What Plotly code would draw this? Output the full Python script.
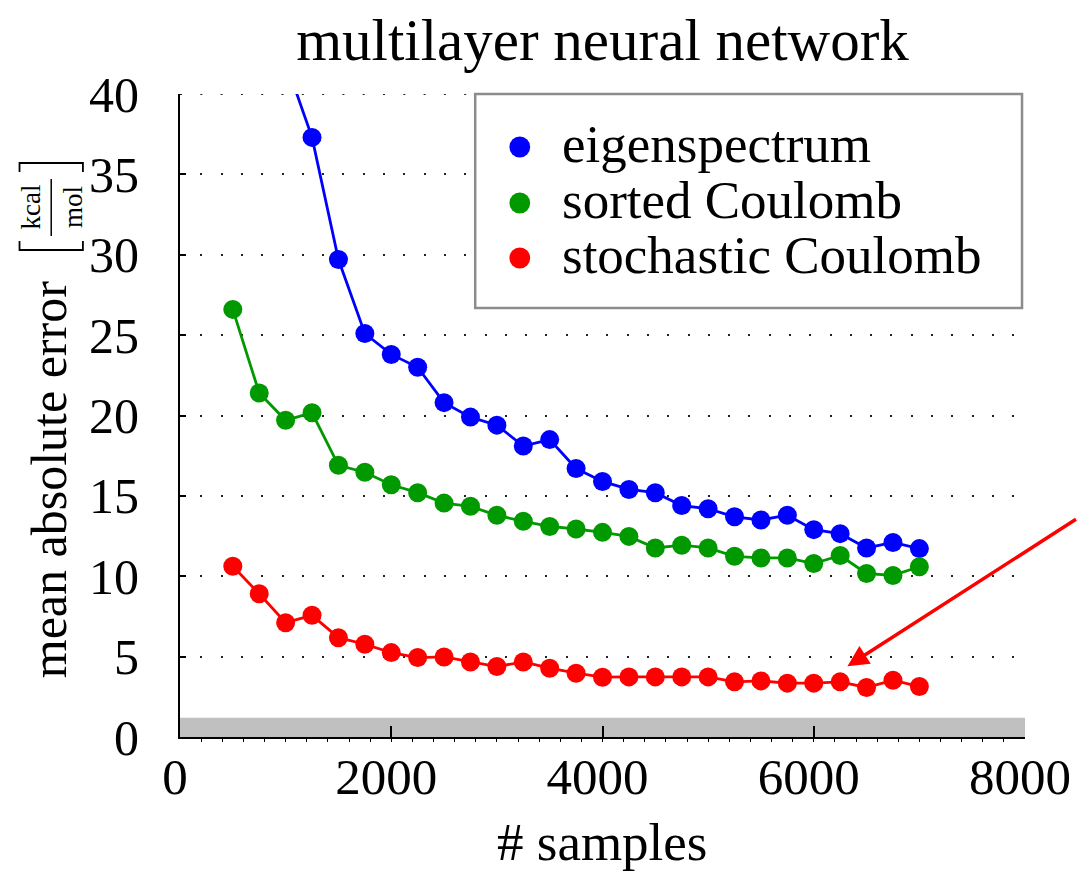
import plotly.graph_objects as go

# ---------------- data ----------------
samples = [500, 750, 1000, 1250, 1500, 1750, 2000, 2250, 2500, 2750, 3000, 3250, 3500,
           3750, 4000, 4250, 4500, 4750, 5000, 5250, 5500, 5750, 6000, 6250, 6500, 6750, 7000]
eigenspectrum = [55.0, 47.5, 42.0, 37.3, 29.7, 25.1, 23.8, 23.0, 20.8, 19.9, 19.4, 18.1, 18.5,
                 16.7, 15.9, 15.4, 15.2, 14.4, 14.2, 13.7, 13.5, 13.8, 12.9, 12.65, 11.76, 12.1, 11.72]
sorted_coulomb = [26.6, 21.4, 19.7, 20.17, 16.9, 16.47, 15.69, 15.2, 14.55, 14.35, 13.79, 13.42, 13.1,
                  12.94, 12.73, 12.48, 11.76, 11.93, 11.76, 11.24, 11.14, 11.14, 10.79, 11.29, 10.17, 10.05, 10.59]
stochastic_coulomb = [10.62, 8.91, 7.11, 7.57, 6.18, 5.77, 5.25, 4.94, 4.98, 4.67, 4.38, 4.67, 4.28,
                      3.97, 3.72, 3.74, 3.74, 3.74, 3.74, 3.43, 3.49, 3.35, 3.35, 3.43, 3.08, 3.53, 3.14]
series_names = ["eigenspectrum", "sorted Coulomb", "stochastic Coulomb"]
series_colors = ["#0000ff", "#009900", "#ff0000"]
x_ticks = [0, 2000, 4000, 6000, 8000]
y_ticks = [0, 5, 10, 15, 20, 25, 30, 35, 40]
accuracy_band = 1.2          # shaded band height (kcal/mol)
arrow_target = (6319, 4.4)   # arrow head position in data units

# ---------------- layout geometry ----------------
# The page body keeps its default 8px margin, so the figure is sized to fit
# the 1091x881 window exactly (8 + 1075 + 8, 8 + 865 + 8).
OFF = 8
W, H = 1075, 865
ML, MR, MT, MB = 172, 50, 86, 136
PW, PH = W - ML - MR, H - MT - MB
FONT = "Liberation Serif"


def px(xp):
    """final-image pixel x -> paper x"""
    return (xp - OFF - ML) / PW


def py(yp):
    """final-image pixel y -> paper y"""
    return (H - MB - (yp - OFF)) / PH


fig = go.Figure()
for name, vals, col in zip(series_names, [eigenspectrum, sorted_coulomb, stochastic_coulomb], series_colors):
    fig.add_trace(go.Scatter(
        x=samples, y=vals, name=name, mode="lines+markers",
        line=dict(color=col, width=2.8),
        marker=dict(color=col, size=19, line=dict(width=0)),
        showlegend=False,
    ))

shapes = []
annotations = []

# shaded band near zero
shapes.append(dict(type="rect", xref="x", yref="y", x0=0, x1=8000, y0=0, y1=accuracy_band,
                   fillcolor="#c0c0c0", line=dict(width=0), layer="between"))
# top dotted gridline (range edge)
shapes.append(dict(type="line", xref="x", yref="y", x0=0, x1=8000, y0=40, y1=40,
                   line=dict(color="#222222", width=2, dash="2px,18.3px"), layer="below"))

# manual legend
lx0, ly0, lx1, ly1 = 478, 94, 1030, 308
shapes.append(dict(type="rect", xref="paper", yref="paper", x0=px(lx0), x1=px(lx1),
                   y0=py(ly1), y1=py(ly0), fillcolor="white",
                   line=dict(color="#8c8c8c", width=2.5), layer="above"))
rows = [147, 203, 258]
for name, col, ry in zip(series_names, series_colors, rows):
    r = 10.5
    shapes.append(dict(type="circle", xref="paper", yref="paper",
                       x0=px(523 - r), x1=px(523 + r), y0=py(ry + r), y1=py(ry - r),
                       fillcolor=col, line=dict(width=0), layer="above"))
    annotations.append(dict(text=name, xref="paper", yref="paper", x=px(564), y=py(ry - 3),
                            xanchor="left", yanchor="middle", showarrow=False,
                            font=dict(family=FONT, size=53, color="black")))

# y-axis label with bracketed fraction
annotations.append(dict(text="mean absolute error", xref="paper", yref="paper",
                        x=px(48), y=py(480), textangle=-90, showarrow=False,
                        xanchor="center", yanchor="middle",
                        font=dict(family=FONT, size=50, color="black")))
annotations.append(dict(text="kcal", xref="paper", yref="paper", x=px(30), y=py(207),
                        textangle=-90, showarrow=False, xanchor="center", yanchor="middle",
                        font=dict(family=FONT, size=27, color="black")))
annotations.append(dict(text="mol", xref="paper", yref="paper", x=px(72), y=py(207),
                        textangle=-90, showarrow=False, xanchor="center", yanchor="middle",
                        font=dict(family=FONT, size=27, color="black")))
# fraction bar
shapes.append(dict(type="line", xref="paper", yref="paper", x0=px(50), x1=px(50),
                   y0=py(179), y1=py(236), line=dict(color="black", width=1.5)))
# brackets
for yb, d in [(163, 9), (250, -9)]:
    path = "M {},{} L {},{} L {},{} L {},{}".format(
        px(18), py(yb + d), px(18), py(yb), px(82), py(yb), px(82), py(yb + d))
    shapes.append(dict(type="path", xref="paper", yref="paper", path=path,
                       line=dict(color="black", width=1.8)))

# x-axis title
annotations.append(dict(text="# samples", xref="paper", yref="paper", x=0.5, y=py(842),
                        xanchor="center", yanchor="middle", showarrow=False,
                        font=dict(family=FONT, size=53, color="black")))

# red arrow
annotations.append(dict(text="", x=arrow_target[0], y=arrow_target[1], xref="x", yref="y",
                        ax=230, ay=-148, showarrow=True, arrowhead=2, arrowsize=1.2,
                        arrowwidth=3.5, arrowcolor="#ff0000", standoff=0))

fig.update_layout(
    width=W, height=H,
    margin=dict(l=ML, r=MR, t=MT, b=MB),
    plot_bgcolor="white", paper_bgcolor="white",
    font=dict(family=FONT, color="black"),
    showlegend=False,
    title=dict(text="multilayer neural network", x=0.5, xref="paper", xanchor="center",
               y=1 - (39 - OFF) / H, yref="container", yanchor="middle",
               font=dict(family=FONT, size=59, color="black")),
    shapes=shapes,
    annotations=annotations,
    xaxis=dict(range=[0, 8000], tickvals=x_ticks, ticktext=[str(v) for v in x_ticks],
               ticks="inside", ticklen=11, tickwidth=1.5, tickcolor="black",
               showline=True, linewidth=2, linecolor="black", showgrid=False, zeroline=False,
               tickfont=dict(family=FONT, size=51, color="black"), ticklabelstandoff=-6,
               ticklabelshift=-5,
               minor=dict(ticks="outside", ticklen=3, dtick=200, tickcolor="black",
                          tickwidth=1, showgrid=False)),
    yaxis=dict(range=[0, 40], tickvals=y_ticks, ticktext=[str(v) for v in y_ticks],
               ticks="inside", ticklen=6, tickwidth=1.5, tickcolor="black",
               showline=True, linewidth=2, linecolor="black",
               showgrid=True, gridcolor="#222222", gridwidth=2, griddash="2px,18.3px",
               zeroline=False, tickfont=dict(family=FONT, size=50, color="black"),
               ticklabelstandoff=29),
)

fig.write_html("out.html", config={"displayModeBar": False})
